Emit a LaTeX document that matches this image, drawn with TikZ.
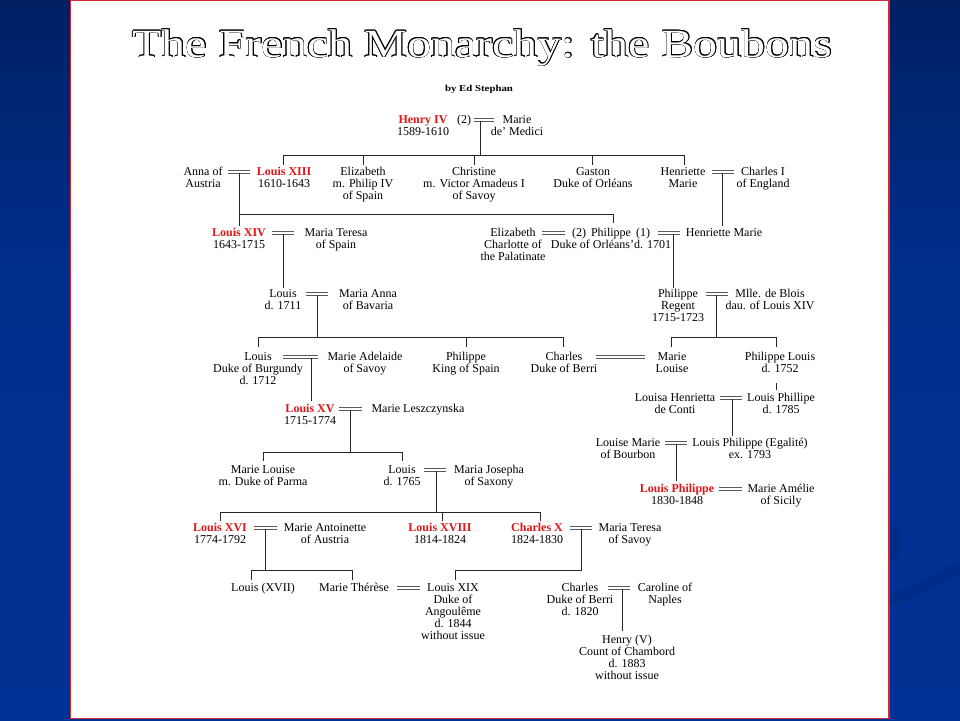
\documentclass[tikz,border=0pt]{standalone}
\usepackage{fontspec}
\setmainfont{Liberation Serif}
\definecolor{kred}{RGB}{222,22,22}
\definecolor{bgA}{RGB}{0,51,153}
\definecolor{bgB}{RGB}{0,47,142}
\definecolor{bgC}{RGB}{0,26,84}
\definecolor{bgD}{RGB}{1,3,16}
\definecolor{swoosh}{RGB}{0,44,136}
\definecolor{panelred}{RGB}{214,40,52}
\pgfdeclareverticalshading{bgsh}{100bp}{color(0bp)=(bgA); color(55bp)=(bgB); color(82bp)=(bgC); color(100bp)=(bgD)}
\newcommand\sr{\rule{0pt}{9pt}}
\newcommand\K[1]{{\bfseries\color{kred}#1}}
\newcommand\wed[3]{\draw[wedl] (#1,#3-1.2) -- (#2,#3-1.2) (#1,#3+1.2) -- (#2,#3+1.2);}
\begin{document}
\begin{tikzpicture}[x=1pt,y=-1pt,
  p/.style={anchor=north,yshift=6pt,inner sep=0pt,align=center,font=\fontsize{12}{12}\selectfont},
  tie/.style={line width=1pt,draw=black!85},
  wedl/.style={draw=black!65,line width=0.9pt},
  ttl/.style={font=\fontsize{40}{40}\selectfont,inner sep=0pt,anchor=base,xscale=1.2}]
\useasboundingbox (0,0) rectangle (960,720);
% background
\shade[shading=bgsh] (0,0) rectangle (960,720);
\draw[line width=10pt,swoosh] (889,600) .. controls (915,592) and (935,580) .. (962,566);
\fill[swoosh] (889,524) .. controls (906,528) and (908,556) .. (889,562) -- cycle;
% panel
\draw[draw=panelred,line width=1.2pt,fill=white] (70.5,0.6) rectangle (889,718.4);
% title
\foreach \ang in {0,30,...,330}
  \node[ttl,text=black,shift={(\ang:0.5pt)}] (t\ang) at (482.5,57) {The French Monarchy: the Boubons};
\node[ttl,text=white] (title) at (482.5,57) {The French Monarchy: the Boubons};
\node[inner sep=0pt,anchor=base,xscale=1.2,font=\fontsize{9}{9}\selectfont\bfseries] (by) at (479,91) {by Ed Stephan};

% generation 1
\node[p] (henry) at (423,120) {\sr\K{Henry IV}\\1589-1610};
\node[p] (h2) at (464,120) {\sr(2)};
\node[p] (medici) at (517,120) {\sr Marie\\de' Medici};
% generation 2
\node[p] (anna) at (203,172) {\sr Anna of\\Austria};
\node[p] (l13) at (284,172) {\sr\K{Louis XIII}\\1610-1643};
\node[p] (eliz) at (363,172) {\sr Elizabeth\\m. Philip IV\\of Spain};
\node[p] (chri) at (474,172) {\sr Christine\\m. Victor Amadeus I\\of Savoy};
\node[p] (gast) at (593,172) {\sr Gaston\\Duke of Orléans};
\node[p] (henr) at (683,172) {\sr Henriette\\Marie};
\node[p] (char1) at (763,172) {\sr Charles I\\of England};
% generation 3
\node[p] (l14) at (239,233) {\sr\K{Louis XIV}\\1643-1715};
\node[p] (mtsp) at (336,233) {\sr Maria Teresa\\of Spain};
\node[p] (elch) at (513,233) {\sr Elizabeth\\Charlotte of\\the Palatinate};
\node[p] (phil) at (611,233) {\sr (2)\, Philippe\, (1)\\Duke of Orléans'd. 1701};
\node[p] (henr2) at (724,233) {\sr Henriette Marie};
% generation 4
\node[p] (ld1711) at (283,294) {\sr Louis\\d. 1711};
\node[p] (manna) at (368,294) {\sr Maria Anna\\of Bavaria};
\node[p] (regent) at (678,294) {\sr Philippe\\Regent\\1715-1723};
\node[p] (blois) at (770,294) {\sr Mlle. de Blois\\dau. of Louis XIV};
% generation 5
\node[p] (burg) at (258,357) {\sr Louis\\Duke of Burgundy\\d. 1712};
\node[p] (adel) at (365,357) {\sr Marie Adelaide\\of Savoy};
\node[p] (philsp) at (466,357) {\sr Philippe\\King of Spain};
\node[p] (berri) at (564,357) {\sr Charles\\Duke of Berri};
\node[p] (mlouise) at (672,357) {\sr Marie\\Louise};
\node[p] (phlouis) at (780,357) {\sr Philippe Louis\\d. 1752};
% generation 6
\node[p] (lhen) at (675,398) {\sr Louisa Henrietta\\de Conti};
\node[p] (lphil) at (781,398) {\sr Louis Phillipe\\d. 1785};
\node[p] (l15) at (310,409) {\sr\K{Louis XV}\\1715-1774};
\node[p] (lesz) at (418,409) {\sr Marie Leszczynska};
% generation 7
\node[p] (lmarie) at (628,443) {\sr Louise Marie\\of Bourbon};
\node[p] (egal) at (750,443) {\sr Louis Philippe (Egalité)\\ex. 1793};
\node[p] (mlparma) at (263,470) {\sr Marie Louise\\m. Duke of Parma};
\node[p] (ld1765) at (402,470) {\sr Louis\\d. 1765};
\node[p] (josepha) at (489,470) {\sr Maria Josepha\\of Saxony};
\node[p] (lp) at (677,489) {\sr\K{Louis Philippe}\\1830-1848};
\node[p] (amelie) at (781,489) {\sr Marie Amélie\\of Sicily};
% generation 8
\node[p] (l16) at (220,528) {\sr\K{Louis XVI}\\1774-1792};
\node[p] (antoin) at (325,528) {\sr Marie Antoinette\\of Austria};
\node[p] (l18) at (440,528) {\sr\K{Louis XVIII}\\1814-1824};
\node[p] (c10) at (537,528) {\sr\K{Charles X}\\1824-1830};
\node[p] (mtsav) at (630,528) {\sr Maria Teresa\\of Savoy};
% generation 9
\node[p] (l17) at (263,588) {\sr Louis (XVII)};
\node[p] (mther) at (354,588) {\sr Marie Thérèse};
\node[p] (l19) at (453,588) {\sr Louis XIX\\Duke of\\Angoulême\\d. 1844\\without issue};
\node[p] (cberri) at (580,588) {\sr Charles\\Duke of Berri\\d. 1820};
\node[p] (carol) at (665,588) {\sr Caroline of\\Naples};
\node[p] (henry5) at (627,640) {\sr Henry (V)\\Count of Chambord\\d. 1883\\without issue};

% marriages
\wed{474}{494}{120}
\wed{228}{250}{172}
\wed{712}{734}{172}
\wed{272}{294}{233}
\wed{542}{565}{233}
\wed{658}{680}{233}
\wed{306}{328}{294}
\wed{706}{728}{294}
\wed{283}{318}{357}
\wed{596}{645}{357}
\wed{720}{742}{398}
\wed{339}{362}{409}
\wed{665}{687}{443}
\wed{424}{446}{470}
\wed{719}{742}{489}
\wed{254}{277}{528}
\wed{570}{592}{528}
\wed{397}{420}{588}
\wed{608}{630}{588}

% descent lines
\draw[tie] (480,121) -- (480,155);
\draw[tie] (283,165) -- (283,155) -- (684,155) -- (684,165);
\draw[tie] (363,155) -- (363,165) (474,155) -- (474,165) (592,155) -- (592,165);
\draw[tie] (239,173) -- (239,226) (239,214) -- (613,214) -- (613,223);
\draw[tie] (722,173) -- (722,226);
\draw[tie] (283,234) -- (283,288);
\draw[tie] (673,234) -- (673,288);
\draw[tie] (317,295) -- (317,337) (258,347) -- (258,337) -- (563,337) -- (563,347) (466,337) -- (466,347);
\draw[tie] (716,295) -- (716,337) (671,347) -- (671,337) -- (776,337) -- (776,347);
\draw[tie] (311,358) -- (311,401);
\draw[tie] (776,383) -- (776,390);
\draw[tie] (732,399) -- (732,436);
\draw[tie] (350,410) -- (350,452) (263,461) -- (263,452) -- (402,452) -- (402,461);
\draw[tie] (676,444) -- (676,481);
\draw[tie] (436,471) -- (436,512) (220,521) -- (220,512) -- (540,512) -- (540,521) (442,512) -- (442,521);
\draw[tie] (265,529) -- (265,570) (251,580) -- (251,570) -- (352,570) -- (352,580);
\draw[tie] (581,529) -- (581,570) -- (455,570) -- (455,580);
\draw[tie] (622,589) -- (622,631);
\end{tikzpicture}
\end{document}
